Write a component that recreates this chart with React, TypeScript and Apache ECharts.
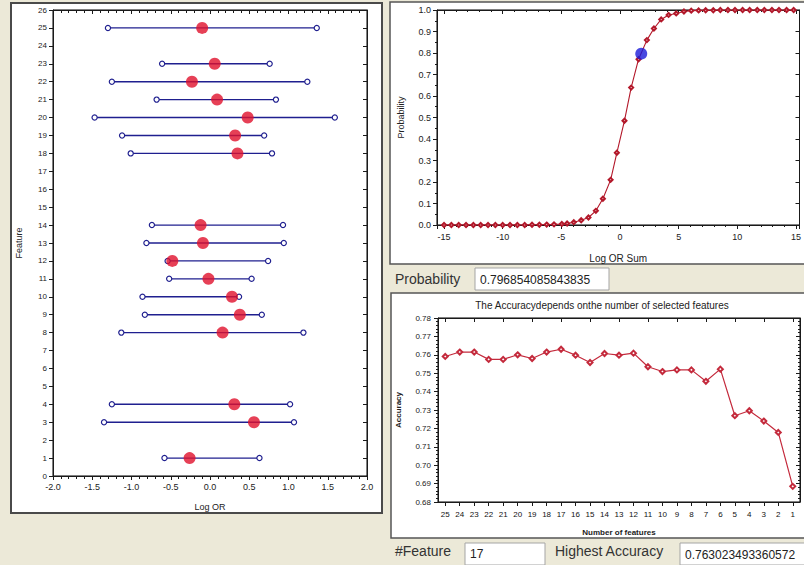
import React, { useEffect, useRef } from "react";
import * as echarts from "echarts";

// ---------- Data ----------
// Left chart: feature log odds ratios with intervals
const features = [25, 23, 22, 21, 20, 19, 18, 14, 13, 12, 11, 10, 9, 8, 4, 3, 1];
const lowerCI = [-1.30, -0.61, -1.25, -0.68, -1.47, -1.12, -1.01, -0.74, -0.81, -0.54, -0.52, -0.86, -0.83, -1.13, -1.25, -1.35, -0.58];
const upperCI = [1.36, 0.76, 1.24, 0.84, 1.59, 0.69, 0.79, 0.93, 0.94, 0.74, 0.53, 0.37, 0.66, 1.19, 1.02, 1.07, 0.63];
const logOR = [-0.10, 0.06, -0.23, 0.09, 0.48, 0.32, 0.35, -0.12, -0.09, -0.48, -0.02, 0.28, 0.38, 0.16, 0.31, 0.56, -0.26];

// Top right chart: probability curve
const curveX = [-15, -14.375, -13.75, -13.125, -12.5, -11.875, -11.25, -10.625, -10, -9.375, -8.75, -8.125, -7.5, -6.875, -6.25, -5.625,
  -4.96, -4.51, -3.94, -3.31, -2.69, -2.06, -1.46, -0.80, -0.27, 0.38, 0.95, 1.58, 2.29, 2.89, 3.51, 4.14, 4.79, 5.45, 6.07,
  6.7, 7.3, 7.95, 8.55, 9.2, 9.8, 10.45, 11.05, 11.7, 12.3, 12.95, 13.55, 14.2, 14.8];
const curveP = [0, 0, 0, 0, 0, 0, 0, 0, 0, 0, 0, 0, 0.001, 0.001, 0.002, 0.003,
  0.005, 0.007, 0.013, 0.022, 0.035, 0.066, 0.122, 0.21, 0.336, 0.485, 0.639, 0.771, 0.86, 0.914, 0.956, 0.977, 0.984, 0.993, 0.997,
  0.998, 0.999, 0.999, 1, 1, 1, 1, 1, 1, 1, 1, 1, 1, 1];
const currentLogORSum = 1.81;
const currentProbability = 0.796854085843835;

// Bottom right chart: accuracy vs number of features
const featureCounts = ["25", "24", "23", "22", "21", "20", "19", "18", "17", "16", "15", "14", "13", "12", "11", "10", "9", "8", "7", "6", "5", "4", "3", "2", "1"];
const accuracy = [0.7591, 0.7615, 0.7615, 0.7575, 0.7575, 0.7600, 0.7580, 0.7615, 0.7630, 0.7598, 0.7558, 0.7607, 0.7598, 0.7609, 0.7535,
  0.7509, 0.7518, 0.7518, 0.7456, 0.7522, 0.7269, 0.7296, 0.7240, 0.7178, 0.6885];
const bestFeatureCount = "17";
const highestAccuracy = "0.763023493360572";

const FONT = "Liberation Sans";
const AX = "#1a1a1a";

export default function App() {
  const ref = useRef<HTMLDivElement>(null);
  useEffect(() => {
    if (!ref.current) return;
    const chart = echarts.init(ref.current, undefined, { renderer: "svg" });

    const lbl = (extra: any = {}) => ({ fontSize: 9, color: "#222", fontFamily: FONT, ...extra });
    const tickAxis = (gridIndex: number, pos: string, extra: any = {}) => ({
      gridIndex,
      position: pos,
      type: "value",
      axisLine: { show: true, onZero: false, lineStyle: { color: AX } },
      axisLabel: { show: false },
      splitLine: { show: false },
      axisTick: { show: true, inside: true, length: 4, lineStyle: { color: AX } },
      ...extra,
    });

    const errorData = features.map((f, i) => [lowerCI[i], upperCI[i], f]);
    const dotData = features.map((f, i) => [logOR[i], f]);
    const curveData = curveX.map((x, i) => [x, curveP[i]]);

    const option: any = {
      animation: false,
      backgroundColor: "#ECE9D8",
      grid: [
        { left: 53, top: 10, width: 314, height: 466, show: true, borderColor: "#000", borderWidth: 1, backgroundColor: "#fff" },
        { left: 437, top: 10, width: 363, height: 215, show: true, borderColor: "#000", borderWidth: 1, backgroundColor: "#fff" },
        { left: 438, top: 318, width: 362, height: 184, show: true, borderColor: "#000", borderWidth: 1, backgroundColor: "#fff" },
      ],
      xAxis: [
        {
          gridIndex: 0, type: "value", position: "bottom", min: -2, max: 2, interval: 0.5,
          axisLine: { show: true, onZero: false, lineStyle: { color: AX } },
          axisTick: { show: true, length: 4, lineStyle: { color: AX } },
          minorTick: { show: true, splitNumber: 5, length: 3, lineStyle: { color: AX } },
          splitLine: { show: false }, minorSplitLine: { show: false },
          axisLabel: lbl({ formatter: (v: number) => v.toFixed(1), margin: 6 }),
          name: "Log OR", nameLocation: "middle", nameGap: 26, nameTextStyle: lbl({ fontSize: 9 }),
        },
        tickAxis(0, "top", { min: -2, max: 2, interval: 0.5, minorTick: { show: true, splitNumber: 5, length: 3, lineStyle: { color: AX } } }),
        {
          gridIndex: 1, type: "value", position: "bottom", min: -15.6, max: 15.3, splitNumber: 6,
          axisLine: { show: true, onZero: false, lineStyle: { color: AX } },
          axisTick: { show: true, length: 4, lineStyle: { color: AX } },
          minorTick: { show: true, splitNumber: 5, length: 2, lineStyle: { color: AX } },
          splitLine: { show: false },
          axisLabel: lbl({ showMinLabel: false, showMaxLabel: false, margin: 7 }),
          name: "Log OR Sum", nameLocation: "middle", nameGap: 28, nameTextStyle: lbl({ fontSize: 10 }),
        },
        tickAxis(1, "top", { min: -15.6, max: 15.3, splitNumber: 6, minorTick: { show: true, splitNumber: 5, length: 2, lineStyle: { color: AX } } }),
        {
          gridIndex: 2, type: "category", position: "bottom", data: featureCounts, boundaryGap: true,
          axisLine: { show: true, onZero: false, lineStyle: { color: AX } },
          axisTick: { show: true, alignWithLabel: true, length: 4, inside: false, lineStyle: { color: AX } },
          splitLine: { show: false },
          axisLabel: lbl({ fontSize: 8, interval: 0, margin: 8, color: "#111" }),
          name: "Number of features", nameLocation: "middle", nameGap: 26,
          nameTextStyle: lbl({ fontSize: 8, fontWeight: "bold" }),
        },
        {
          gridIndex: 2, type: "category", position: "top", data: featureCounts, boundaryGap: true,
          axisLine: { show: true, onZero: false, lineStyle: { color: AX } }, axisLabel: { show: false }, splitLine: { show: false },
          axisTick: { show: true, inside: true, alignWithLabel: true, length: 4, lineStyle: { color: AX } },
        },
      ],
      yAxis: [
        {
          gridIndex: 0, type: "value", position: "left", min: 0, max: 26, interval: 1,
          axisLine: { show: true, onZero: false, lineStyle: { color: AX } },
          axisTick: { show: true, length: 4, lineStyle: { color: AX } },
          splitLine: { show: false },
          axisLabel: lbl({ fontSize: 8, margin: 6 }),
          name: "Feature", nameLocation: "middle", nameGap: 30, nameTextStyle: lbl({ fontSize: 9 }),
        },
        tickAxis(0, "right", { min: 0, max: 26, interval: 1 }),
        {
          gridIndex: 1, type: "value", position: "left", min: 0, max: 1, interval: 0.1,
          axisLine: { show: true, onZero: false, lineStyle: { color: AX } },
          axisTick: { show: true, length: 4, lineStyle: { color: AX } },
          minorTick: { show: true, splitNumber: 2, length: 2, lineStyle: { color: AX } },
          splitLine: { show: false },
          axisLabel: lbl({ formatter: (v: number) => v.toFixed(1), margin: 6 }),
          name: "Probability", nameLocation: "middle", nameGap: 32, nameTextStyle: lbl({ fontSize: 9 }),
        },
        tickAxis(1, "right", { min: 0, max: 1, interval: 0.1 }),
        {
          gridIndex: 2, type: "value", position: "left", min: 0.68, max: 0.78, interval: 0.01,
          axisLine: { show: true, onZero: false, lineStyle: { color: AX } },
          axisTick: { show: true, length: 4, lineStyle: { color: AX } },
          minorTick: { show: true, splitNumber: 5, length: 2, lineStyle: { color: AX } },
          splitLine: { show: false },
          axisLabel: lbl({ fontSize: 8, formatter: (v: number) => v.toFixed(2), margin: 7 }),
          name: "Accuracy", nameLocation: "middle", nameGap: 36,
          nameTextStyle: lbl({ fontSize: 8, fontWeight: "bold" }),
        },
        tickAxis(2, "right", { min: 0.68, max: 0.78, interval: 0.01, minorTick: { show: true, splitNumber: 5, length: 2, lineStyle: { color: AX } } }),
      ],
      series: [
        {
          type: "custom", xAxisIndex: 0, yAxisIndex: 0, data: errorData,
          encode: { x: [0, 1], y: 2 },
          renderItem: (_p: any, api: any) => {
            const y = api.value(2);
            const a = api.coord([api.value(0), y]);
            const b = api.coord([api.value(1), y]);
            const c = "#1f1f8f";
            return {
              type: "group",
              children: [
                { type: "line", shape: { x1: a[0], y1: a[1], x2: b[0], y2: b[1] }, style: { stroke: c, lineWidth: 1.4 } },
                { type: "circle", shape: { cx: a[0], cy: a[1], r: 2.6 }, style: { fill: "#fff", stroke: c, lineWidth: 1.2 } },
                { type: "circle", shape: { cx: b[0], cy: b[1], r: 2.6 }, style: { fill: "#fff", stroke: c, lineWidth: 1.2 } },
              ],
            };
          },
        },
        {
          type: "scatter", xAxisIndex: 0, yAxisIndex: 0, data: dotData, symbol: "circle", symbolSize: 12,
          itemStyle: { color: "#e0102c" },
        },
        {
          type: "line", xAxisIndex: 2, yAxisIndex: 2, data: curveData, symbol: "emptyDiamond", symbolSize: 4,
          showAllSymbol: true,
          lineStyle: { color: "#b3182a", width: 1.1 }, itemStyle: { color: "#b3182a", borderWidth: 0.9 },
        },
        {
          type: "scatter", xAxisIndex: 2, yAxisIndex: 2, data: [[currentLogORSum, currentProbability]],
          symbol: "circle", symbolSize: 12, itemStyle: { color: "#1a1ad8" }, z: 5,
        },
        {
          type: "line", xAxisIndex: 4, yAxisIndex: 4, data: accuracy, symbol: "emptyDiamond", symbolSize: 5,
          showAllSymbol: true,
          lineStyle: { color: "#c42a3c", width: 1.2 }, itemStyle: { color: "#c42a3c", borderWidth: 1 },
        },
      ],
      graphic: [
        // panel frames
        { type: "rect", z: -10, shape: { x: 11, y: 3, width: 371, height: 510 }, style: { fill: "#fff", stroke: "#4a4a4a", lineWidth: 2 } },
        { type: "rect", z: -10, shape: { x: 390, y: 2, width: 420, height: 262 }, style: { fill: "#fff", stroke: "#555", lineWidth: 1.5 } },
        { type: "rect", z: -10, shape: { x: 391, y: 293, width: 420, height: 245 }, style: { fill: "#fff", stroke: "#555", lineWidth: 1.5 } },
        // title of accuracy chart
        { type: "text", x: 602, y: 305, style: { text: "The Accuracydepends onthe number of selected features", fill: "#222", font: `10px "${FONT}"`, textAlign: "center", textVerticalAlign: "middle" } },
        // form fields
        { type: "text", x: 395, y: 279, style: { text: "Probability", fill: "#333", font: `14px "${FONT}"`, textVerticalAlign: "middle" } },
        { type: "rect", shape: { x: 475, y: 268, width: 134, height: 22 }, style: { fill: "#fff", stroke: "#a5a5a5", lineWidth: 1 } },
        { type: "text", x: 480, y: 280, style: { text: String(currentProbability), fill: "#222", font: `12px "${FONT}"`, textVerticalAlign: "middle" } },
        { type: "text", x: 395, y: 551, style: { text: "#Feature", fill: "#333", font: `14px "${FONT}"`, textVerticalAlign: "middle" } },
        { type: "rect", shape: { x: 465, y: 543, width: 80, height: 22 }, style: { fill: "#fff", stroke: "#a5a5a5", lineWidth: 1 } },
        { type: "text", x: 470, y: 554, style: { text: bestFeatureCount, fill: "#222", font: `12px "${FONT}"`, textVerticalAlign: "middle" } },
        { type: "text", x: 555, y: 551, style: { text: "Highest Accuracy", fill: "#333", font: `14px "${FONT}"`, textVerticalAlign: "middle" } },
        { type: "rect", shape: { x: 680, y: 543, width: 126, height: 22 }, style: { fill: "#fff", stroke: "#a5a5a5", lineWidth: 1 } },
        { type: "text", x: 685, y: 555, style: { text: highestAccuracy, fill: "#222", font: `12px "${FONT}"`, textVerticalAlign: "middle" } },
      ],
    };

    chart.setOption(option);
    return () => chart.dispose();
  }, []);

  return <div ref={ref} style={{ position: "absolute", left: 0, top: 0, width: 804, height: 565 }} />;
}
